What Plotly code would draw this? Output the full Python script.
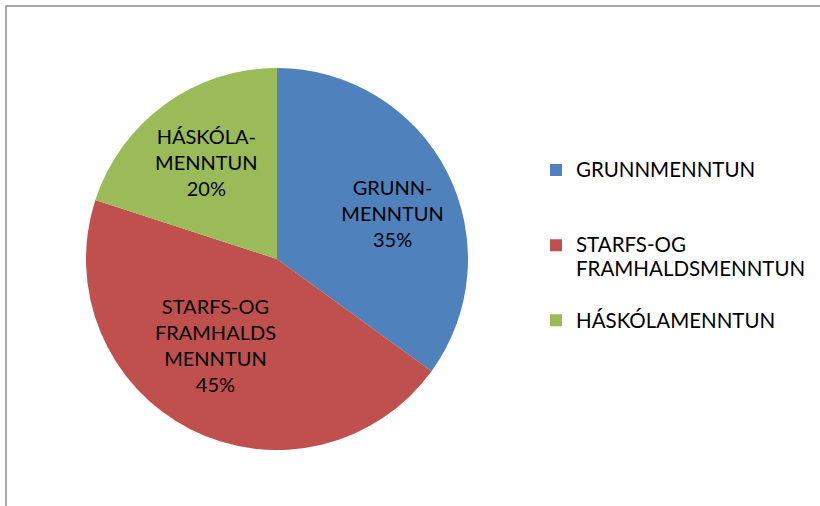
import plotly.graph_objects as go

# Data
categories = ["GRUNNMENNTUN", "STARFS-OG FRAMHALDSMENNTUN", "HÁSKÓLAMENNTUN"]
values = [35, 45, 20]
slice_text = ["GRUNN-<br>MENNTUN", "STARFS-OG<br>FRAMHALDS<br>MENNTUN", "HÁSKÓLA-<br>MENNTUN"]
legend_lines = [["GRUNNMENNTUN"], ["STARFS-OG", "FRAMHALDSMENNTUN"], ["HÁSKÓLAMENNTUN"]]
colors = ["#4F81BD", "#C0504D", "#9BBB59"]

W, H = 820, 506
LEG_FONT = 18.5
VIS_FONT = 20.5
# padding (in no-break spaces) before / after each slice-label line, to mimic Excel's label placement
pad_left = [10, 0, 0]
pad_right = [0, 7, 0]


def legend_label(lines, last):
    parts = [f'<span style="font-size:{VIS_FONT}px">{ln}</span>' for ln in lines]
    # pad entries to equal height (Excel spreads legend entries evenly)
    if not last:
        while len(parts) < 3:
            parts.append(" ")
    return "<br>".join(parts)


labels = [legend_label(l, i == len(legend_lines) - 1) for i, l in enumerate(legend_lines)]
texts = [
    "<br>".join("&nbsp;" * pl + ln + "&nbsp;" * pr for ln in t.split("<br>"))
    for t, pl, pr in zip(slice_text, pad_left, pad_right)
]
pct_pre = ["&nbsp;" * p for p in pad_left]
pct_post = ["&nbsp;" * p for p in pad_right]

fig = go.Figure(
    go.Pie(
        labels=labels,
        values=values,
        text=texts,
        customdata=list(zip(pct_pre, pct_post)),
        texttemplate="%{text}<br>%{customdata[0]}%{percent:.0%}%{customdata[1]}",
        textposition="inside",
        insidetextorientation="horizontal",
        textfont=dict(family="Lato", size=20, color="#000000"),
        marker=dict(colors=colors, line=dict(width=0)),
        sort=False,
        direction="clockwise",
        rotation=0,
        hoverinfo="skip",
        domain=dict(x=[86 / W, 468 / W], y=[1 - 450 / H, 1 - 68 / H]),
    )
)

fig.update_layout(
    width=W,
    height=H,
    margin=dict(l=0, r=0, t=0, b=0),
    paper_bgcolor="white",
    plot_bgcolor="white",
    font=dict(family="Lato", color="#000000"),
    showlegend=True,
    legend=dict(
        x=536 / W,
        y=1 - 151.5 / H,
        xanchor="left",
        yanchor="top",
        valign="top",
        font=dict(family="Lato", size=LEG_FONT, color="#000000"),
        bgcolor="rgba(0,0,0,0)",
    ),
    shapes=[
        dict(
            type="rect",
            xref="paper",
            yref="paper",
            x0=6 / W,
            x1=1 + 20 / W,
            y0=-20 / H,
            y1=1 - 6 / H,
            line=dict(color="#8c8c8c", width=1.5),
            fillcolor="rgba(0,0,0,0)",
            layer="below",
        )
    ],
)

fig.write_html(
    "out.html",
    config={"displayModeBar": False},
    post_script="document.body.style.margin='0';",
)
